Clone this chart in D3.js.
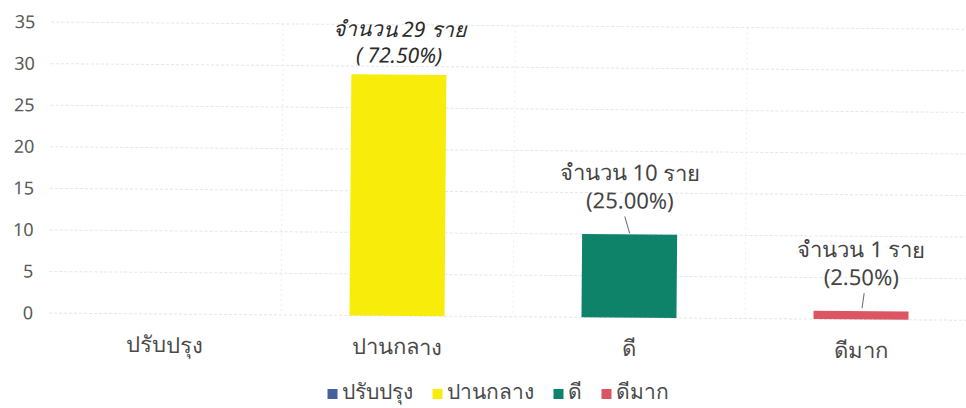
<!DOCTYPE html>
<html>
<head>
<meta charset="utf-8">
<script src="https://cdn.jsdelivr.net/npm/d3@7"></script>
<style>
  body { margin: 0; background: #fff; }
  text { font-family: "Noto Sans", "DejaVu Sans", sans-serif; }
</style>
</head>
<body>
<div id="chart"></div>
<script>
// chart data
const categories = ["ปรับปรุง", "ปานกลาง", "ดี", "ดีมาก"];
const counts = [0, 29, 10, 1];
const labelLine1 = ["", "จำนวน 29 ราย", "จำนวน 10 ราย", "จำนวน 1 ราย"];
const labelLine2 = ["", "( 72.50%)", "(25.00%)", "(2.50%)"];
const colors = ["#46609c", "#f7ec0a", "#0f826a", "#dc5562"];
const yTicks = [0, 5, 10, 15, 20, 25, 30, 35];

const width = 966, height = 408;
const margin = {top: 22, right: -11, bottom: 95, left: 49};

const svg = d3.select("#chart")
  .append("svg")
  .attr("width", width)
  .attr("height", height);

// scanned page is slightly tilted
const plot = svg.append("g")
  .attr("transform", "rotate(0.45, 40, 313)");

const yScale = d3.scaleLinear()
  .domain([0, 35])
  .range([height - margin.bottom, margin.top]);

const xScale = d3.scaleBand()
  .domain(categories)
  .range([margin.left, width - margin.right])
  .padding(0);

// horizontal grid
plot.append("g")
  .selectAll("line")
  .data(yTicks)
  .enter()
  .append("line")
    .attr("x1", margin.left)
    .attr("x2", width)
    .attr("y1", d => yScale(d))
    .attr("y2", d => yScale(d))
    .attr("stroke", "#e6e6e6")
    .attr("stroke-dasharray", "3,2");

// vertical grid between categories
plot.append("g")
  .selectAll("line")
  .data(categories.slice(1))
  .enter()
  .append("line")
    .attr("x1", d => xScale(d))
    .attr("x2", d => xScale(d))
    .attr("y1", yScale(35))
    .attr("y2", yScale(0))
    .attr("stroke", "#eeeeee")
    .attr("stroke-dasharray", "2,3");

// y axis
const yAxis = plot.append("g")
  .attr("transform", `translate(${margin.left - 16},0)`)
  .call(d3.axisLeft(yScale).tickValues(yTicks).tickSize(0).tickPadding(0))
  .attr("font-size", "18px");
yAxis.select(".domain").remove();
yAxis.selectAll("text").attr("fill", "#5a5a5a").attr("font-family", "Open Sans, Noto Sans, sans-serif");

// x axis labels
const xAxis = plot.append("g")
  .attr("transform", `translate(0,${yScale(0)})`)
  .call(d3.axisBottom(xScale).tickSize(0).tickPadding(23))
  .attr("font-size", "22px");
xAxis.select(".domain").remove();
xAxis.selectAll("text").attr("fill", "#4a4a4a");

const barW = 95;

// bars
plot.selectAll(".bar")
  .data(counts)
  .enter()
  .append("rect")
    .attr("class", "bar")
    .attr("x", (d, i) => xScale(categories[i]) + xScale.bandwidth() / 2 - barW / 2)
    .attr("y", d => yScale(d))
    .attr("width", barW)
    .attr("height", d => yScale(0) - yScale(d))
    .attr("fill", (d, i) => colors[i]);

// data labels
const labels = plot.selectAll(".lbl")
  .data(counts)
  .enter()
  .append("g")
    .attr("class", "lbl")
    .attr("transform", (d, i) => `translate(${xScale(categories[i]) + xScale.bandwidth() / 2},${yScale(d)})`);

labels.append("text")
  .attr("text-anchor", "middle")
  .attr("y", (d, i) => i === 1 ? -38 : -54)
  .attr("font-size", (d, i) => i === 1 ? "21px" : "22px")
  .attr("font-style", (d, i) => i === 1 ? "italic" : "normal")
  .attr("fill", (d, i) => i === 1 ? "#2a2a2a" : "#444")
  .text((d, i) => labelLine1[i]);

labels.append("text")
  .attr("text-anchor", "middle")
  .attr("y", (d, i) => i === 1 ? -12 : -26)
  .attr("font-size", (d, i) => i === 1 ? "21px" : "22px")
  .attr("font-style", (d, i) => i === 1 ? "italic" : "normal")
  .attr("fill", (d, i) => i === 1 ? "#2a2a2a" : "#444")
  .text((d, i) => labelLine2[i]);

// leader lines
labels.filter((d, i) => i >= 2)
  .append("line")
    .attr("x1", (d, i) => i === 0 ? -5 : 3)
    .attr("x2", (d, i) => i === 0 ? 0 : 1)
    .attr("y1", -18)
    .attr("y2", (d, i) => i === 0 ? -1 : -3)
    .attr("stroke", "#6a6a80")
    .attr("stroke-width", 1);

// legend, laid out from text widths and centred
const legend = svg.append("g");
const items = legend.selectAll("g")
  .data(categories)
  .enter()
  .append("g");

items.append("rect")
  .attr("y", -10)
  .attr("width", 10)
  .attr("height", 10)
  .attr("fill", (d, i) => colors[i]);

items.append("text")
  .attr("x", 14)
  .attr("font-size", "21px")
  .attr("fill", "#4a4a4a")
  .text(d => d);

let cursor = 0;
items.each(function() {
  const w = d3.select(this).select("text").node().getComputedTextLength();
  d3.select(this).attr("transform", `translate(${cursor},0)`);
  cursor += 14 + w + 20;
});
const legendW = cursor - 20;
legend.attr("transform", `translate(${498 - legendW / 2},399)`);
</script>
</body>
</html>
